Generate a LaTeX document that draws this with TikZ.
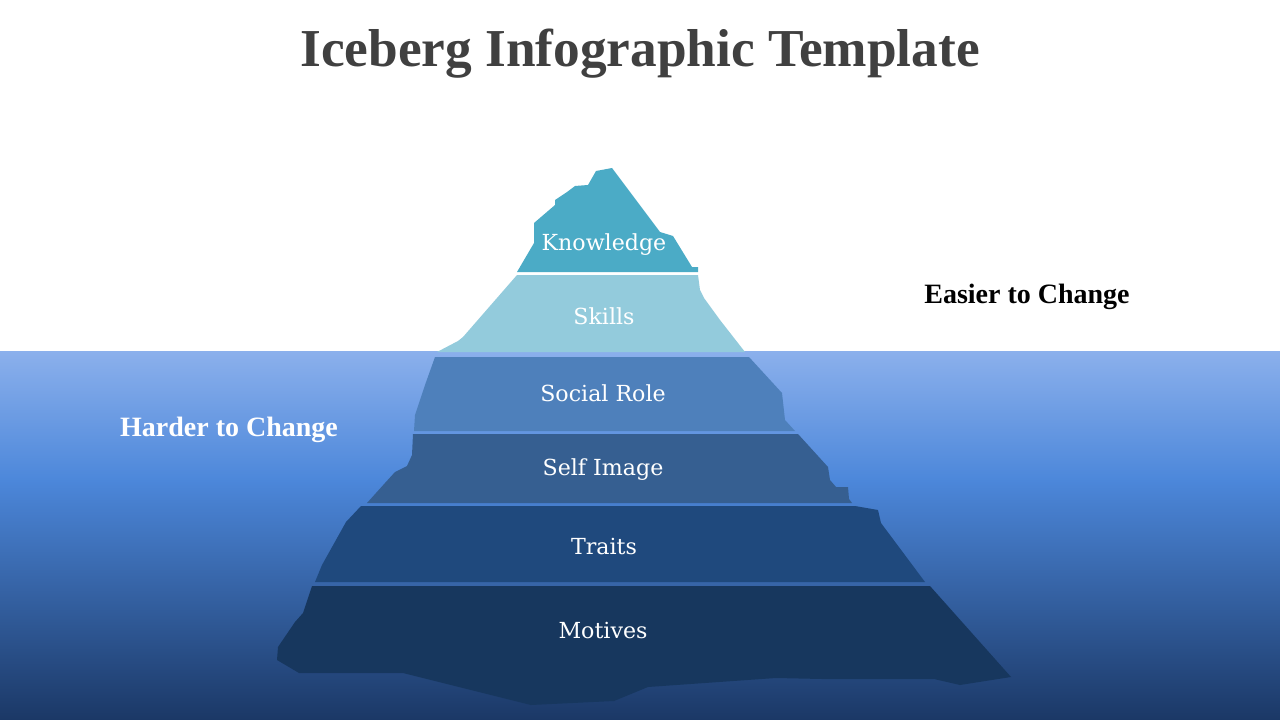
\documentclass[tikz,border=0pt]{standalone}
\usepackage{fontspec}
\setmainfont{DejaVu Serif}
\newfontfamily\headfont{Liberation Serif}
\definecolor{knowC}{HTML}{4BABC6}
\definecolor{skillC}{HTML}{93CBDC}
\definecolor{socialC}{HTML}{4E80BB}
\definecolor{selfC}{HTML}{365F91}
\definecolor{traitC}{HTML}{1F497D}
\definecolor{motC}{HTML}{17375E}
\definecolor{titleC}{HTML}{404040}
\definecolor{waterA}{HTML}{8BB0EC}
\definecolor{waterB}{HTML}{4C87DA}
\definecolor{waterC}{HTML}{1B3866}
\begin{document}
\begin{tikzpicture}[x=0.75pt,y=-0.75pt,
  laylabel/.style={text=white,font=\fontsize{16.6}{19}\selectfont,inner sep=0pt},
  sidelabel/.style={font=\headfont\bfseries\fontsize{21}{24}\selectfont,inner sep=0pt}]
\useasboundingbox (0,0) rectangle (1280,720);
\fill[white] (0,0) rectangle (1280,720);
% water
\shade[top color=waterA,bottom color=waterB] (0,351) rectangle (1280,481);
\shade[top color=waterB,bottom color=waterC] (0,480) rectangle (1280,720);
% iceberg layers
\fill[knowC] (517,272) -- (534,243) -- (534,223) -- (555,205) -- (555,200) -- (567,192) -- (575,186) -- (588,185) -- (596,171) -- (612,168) -- (660,232) -- (673,236) -- (692,267) -- (698,267) -- (698,272) -- cycle;
\fill[skillC] (517,275) -- (698,275) -- (700,290) -- (704,298) -- (720,320) -- (745,352) -- (437,352) -- (458,341) -- (463,337) -- cycle;
\fill[socialC] (435,357) -- (749,357) -- (782,393) -- (785,420) -- (795,431) -- (414,431) -- (415,415) -- (425,385) -- cycle;
\fill[selfC] (413,434) -- (798,434) -- (828,467) -- (830,480) -- (836,487) -- (848,487) -- (849,499) -- (852,503) -- (367,503) -- (385,483) -- (395,472) -- (407,466) -- (412,455) -- cycle;
\fill[traitC] (361,506) -- (855,506) -- (878,510) -- (881,523) -- (925,582) -- (315,582) -- (322,565) -- (346,522) -- cycle;
\fill[motC] (312,586) -- (930,586) -- (1011,677) -- (960,685) -- (934,679) -- (822,679) -- (776,678) -- (648,687) -- (614,701) -- (531,705) -- (403,673) -- (299,673) -- (277,660) -- (278,647) -- (295,622) -- (303,613) -- cycle;
% labels
\node[laylabel] (know) at (604,245) {Knowledge};
\node[laylabel] (skill) at (604,316) {Skills};
\node[laylabel] (social) at (603,393) {Social Role};
\node[laylabel] (self) at (603,470) {Self Image};
\node[laylabel] (trait) at (604,547) {Traits};
\node[laylabel] (mot) at (603,631) {Motives};
\node[text=titleC,font=\headfont\bfseries\fontsize{40}{46}\selectfont] (title) at (640,54) {Iceberg Infographic Template};
\node[sidelabel,text=black] (easy) at (1027,297) {Easier to Change};
\node[sidelabel,text=white] (hard) at (229,430) {Harder to Change};
\end{tikzpicture}
\end{document}
